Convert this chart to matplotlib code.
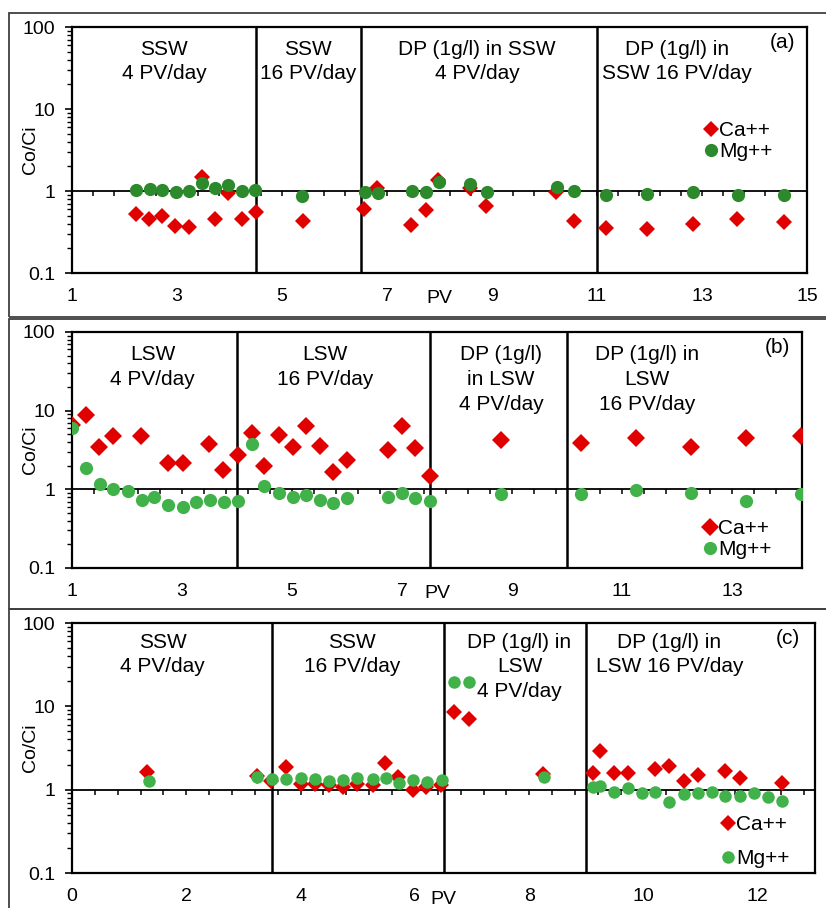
import numpy as np
import matplotlib
matplotlib.use('Agg')
import matplotlib.pyplot as plt
from matplotlib import ticker
from matplotlib.patches import Rectangle
from matplotlib.transforms import blended_transform_factory

plt.rcParams['font.family'] = ['Liberation Sans', 'DejaVu Sans']

######################################################################################################################
# Effluent Co/Ci of Ca++ and Mg++ versus injected pore volumes, three coreflood sequences
######################################################################################################################

# (a) SSW then DP (1g/l) in SSW
a_pv_ca = [2.22, 2.47, 2.72, 2.97, 3.23, 3.48, 3.73, 3.98, 4.23, 4.50, 5.40, 6.56, 6.80, 7.46, 7.74, 7.98, 8.58,
           8.89, 10.22, 10.56, 11.17, 11.95, 12.82, 13.67, 14.56]
a_ca = [0.53, 0.45, 0.50, 0.37, 0.36, 1.49, 0.46, 0.95, 0.45, 0.55, 0.43, 0.60, 1.08, 0.39, 0.58, 1.36, 1.08,
        0.66, 0.98, 0.43, 0.35, 0.34, 0.40, 0.45, 0.42]
a_pv_mg = [2.22, 2.49, 2.72, 2.99, 3.23, 3.48, 3.73, 3.98, 4.24, 4.49, 5.39, 6.59, 6.82, 7.47, 7.74, 7.99, 8.59,
           8.90, 10.23, 10.57, 11.17, 11.96, 12.82, 13.68, 14.57]
a_mg = [1.03, 1.05, 1.03, 0.97, 1.00, 1.24, 1.08, 1.17, 1.00, 1.03, 0.88, 0.97, 0.95, 1.01, 0.97, 1.28, 1.22,
        0.97, 1.13, 1.01, 0.90, 0.92, 0.96, 0.90, 0.90]

# (b) LSW then DP (1g/l) in LSW
b_pv_ca = [1.00, 1.25, 1.49, 1.75, 2.25, 2.74, 3.01, 3.49, 3.75, 4.01, 4.27, 4.49, 4.76, 5.01, 5.25, 5.50, 5.75,
           5.99, 6.74, 6.99, 7.24, 7.51, 8.80, 10.25, 11.25, 12.25, 13.25, 14.25]
b_ca = [6.5, 8.9, 3.5, 4.7, 4.7, 2.16, 2.18, 3.8, 1.74, 2.7, 5.25, 2.0, 4.95, 3.45, 6.3, 3.55, 1.64,
        2.38, 3.13, 6.45, 3.35, 1.46, 4.28, 3.88, 4.54, 3.5, 4.54, 4.7]
b_pv_mg = [1.00, 1.25, 1.51, 1.75, 2.01, 2.27, 2.49, 2.75, 3.01, 3.25, 3.50, 3.76, 4.01, 4.27, 4.49, 4.76, 5.01,
           5.25, 5.50, 5.75, 5.99, 6.75, 7.00, 7.24, 7.51, 8.80, 10.25, 11.25, 12.25, 13.25, 14.25]
b_mg = [6.0, 1.87, 1.17, 1.02, 0.95, 0.74, 0.80, 0.63, 0.59, 0.70, 0.74, 0.70, 0.72, 3.73, 1.10, 0.90, 0.81,
        0.84, 0.74, 0.68, 0.77, 0.80, 0.90, 0.77, 0.72, 0.88, 0.86, 0.97, 0.91, 0.72, 0.86]

# (c) SSW then DP (1g/l) in LSW
c_pv_ca = [1.32, 3.23, 3.49, 3.75, 4.00, 4.25, 4.50, 4.74, 4.99, 5.26, 5.47, 5.70, 5.97, 6.20, 6.45, 6.68, 6.94,
           8.24, 9.11, 9.23, 9.49, 9.73, 10.20, 10.44, 10.70, 10.95, 11.43, 11.68, 12.42]
c_ca = [1.61, 1.47, 1.28, 1.85, 1.17, 1.18, 1.15, 1.09, 1.16, 1.14, 2.09, 1.40, 0.99, 1.07, 1.15, 8.5, 7.06,
        1.54, 1.57, 2.94, 1.57, 1.57, 1.77, 1.90, 1.26, 1.51, 1.69, 1.38, 1.19]
c_pv_mg = [1.35, 3.23, 3.50, 3.75, 4.00, 4.25, 4.50, 4.74, 4.99, 5.26, 5.49, 5.72, 5.97, 6.21, 6.47, 6.68, 6.94,
           8.25, 9.11, 9.24, 9.49, 9.73, 9.97, 10.20, 10.45, 10.70, 10.96, 11.19, 11.43, 11.68, 11.94, 12.17, 12.43]
c_mg = [1.28, 1.40, 1.34, 1.34, 1.37, 1.33, 1.26, 1.31, 1.37, 1.34, 1.38, 1.19, 1.30, 1.25, 1.32, 19.4, 19.8,
        1.43, 1.09, 1.12, 0.95, 1.04, 0.90, 0.95, 0.72, 0.89, 0.91, 0.95, 0.85, 0.85, 0.91, 0.82, 0.74]

# injection stage boundaries (PV) and the stage names
a_stages = [4.5, 6.5, 11]
b_stages = [4, 7.5, 10]
c_stages = [3.5, 6.5, 9]

a_labels = [(2.75, 'SSW\n4 PV/day'), (5.5, 'SSW\n16 PV/day'),
            (8.72, 'DP (1g/l) in SSW\n4 PV/day'), (12.52, 'DP (1g/l) in\nSSW 16 PV/day')]
b_labels = [(2.47, 'LSW\n4 PV/day'), (5.6, 'LSW\n16 PV/day'),
            (8.8, 'DP (1g/l)\nin LSW\n4 PV/day'), (11.45, 'DP (1g/l) in\nLSW\n16 PV/day')]
c_labels = [(1.59, 'SSW\n4 PV/day'), (4.9, 'SSW\n16 PV/day'),
            (7.83, 'DP (1g/l) in\nLSW\n4 PV/day'), (10.45, 'DP (1g/l) in\nLSW 16 PV/day')]

RED = '#e00000'
W, H = 826, 908

fig = plt.figure(figsize=(W / 100, H / 100), dpi=100)
fig.patch.set_facecolor('white')


def px_box(left, top, right, bottom):
    """Pixel box -> figure fraction rect."""
    return [left / W, 1 - bottom / H, (right - left) / W, (bottom - top) / H]


# grey outlines round each panel
for top, bottom in [(13, 317), (318.5, 609), (609, 915)]:
    l, b, w, h = px_box(9, top, 840, bottom)
    fig.add_artist(Rectangle((l, b), w, h, transform=fig.transFigure, fill=False,
                             edgecolor='#404040', linewidth=1.3))


def draw_panel(rect, pv_ca, ca, pv_mg, mg, xlim, xticks, stages, labels, label_top, tag, green,
               leg_anchor, leg_spacing, ms_d, ms_o):
    ax = fig.add_axes(rect)
    ax.set_yscale('log')
    ax.set_ylim(0.1, 100)
    ax.set_xlim(*xlim)

    ax.plot(pv_ca, ca, linestyle='none', marker='D', markersize=ms_d, color=RED,
            markeredgewidth=0, label='Ca++', zorder=4)
    ax.plot(pv_mg, mg, linestyle='none', marker='o', markersize=ms_o, color=green,
            markeredgewidth=0, label='Mg++', zorder=5)

    for s in stages:
        ax.axvline(s, color='black', linewidth=1.8, zorder=3)

    for sp in ax.spines.values():
        sp.set_linewidth(1.6)
        sp.set_color('black')

    # y axis: decades with the full log comb
    ax.yaxis.set_major_locator(ticker.LogLocator(base=10, numticks=10))
    ax.yaxis.set_major_formatter(ticker.FuncFormatter(lambda v, p: f'{v:g}'))
    ax.yaxis.set_minor_locator(ticker.LogLocator(base=10, subs=np.arange(2, 10), numticks=10))
    ax.yaxis.set_minor_formatter(ticker.NullFormatter())
    ax.tick_params(axis='y', which='major', direction='out', length=5, width=1.2, labelsize=14, pad=7)
    ax.tick_params(axis='y', which='minor', direction='out', length=3.5, width=1.0)

    # x tick labels stay low, the axis itself crosses at Co/Ci = 1
    ax.set_xticks(xticks)
    ax.tick_params(axis='x', which='both', length=0, labelsize=14, pad=11)
    ax.set_xlabel('PV', fontsize=14)
    ax.xaxis.set_label_coords(0.5, -0.07)

    cross = ax.secondary_xaxis(1 / 3)
    cross.xaxis.set_major_locator(ticker.MultipleLocator(0.4, offset=xlim[0] % 0.4))
    cross.tick_params(axis='x', direction='out', length=3.5, width=1.1, labelbottom=False, labeltop=False)
    for sp in cross.spines.values():
        sp.set_linewidth(1.3)
        sp.set_color('black')

    ax.set_ylabel('Co/Ci', fontsize=14)
    ax.yaxis.set_label_coords(-33 / (rect[2] * W), 0.5)

    trans = blended_transform_factory(ax.transData, ax.transAxes)
    for x, txt in labels:
        ax.text(x, label_top, txt, transform=trans, ha='center', va='top', multialignment='center',
                fontsize=15, linespacing=1.38)
    ax.text(tag[0], tag[1], tag[2], transform=ax.transAxes, ha='center', va='center', fontsize=15)

    ax.legend(loc='center left', bbox_to_anchor=leg_anchor, frameon=False, fontsize=15,
              handlelength=0.5, handletextpad=0.15, borderpad=0, borderaxespad=0,
              labelspacing=leg_spacing)
    return ax


draw_panel(px_box(72, 27, 807, 273), a_pv_ca, a_ca, a_pv_mg, a_mg, (1, 15), np.arange(1, 16, 2),
           a_stages, a_labels, 0.948, (0.967, 0.935, '(a)'), '#2c8a2c', (0.862, 0.537), 0.1, 8.5, 9.5)
draw_panel(px_box(72, 332, 802, 568), b_pv_ca, b_ca, b_pv_mg, b_mg, (1, 14.27), np.arange(1, 14, 2),
           b_stages, b_labels, 0.944, (0.967, 0.936, '(b)'), '#41b24a', (0.867, 0.121), 0.1, 9.5, 9.5)
draw_panel(px_box(72, 623, 815, 873), c_pv_ca, c_ca, c_pv_mg, c_mg, (0, 13), np.arange(0, 13, 2),
           c_stages, c_labels, 0.962, (0.964, 0.94, '(c)'), '#41b24a', (0.876, 0.126), 0.7, 8.5, 9.0)

fig.savefig('out.png', dpi=100)
